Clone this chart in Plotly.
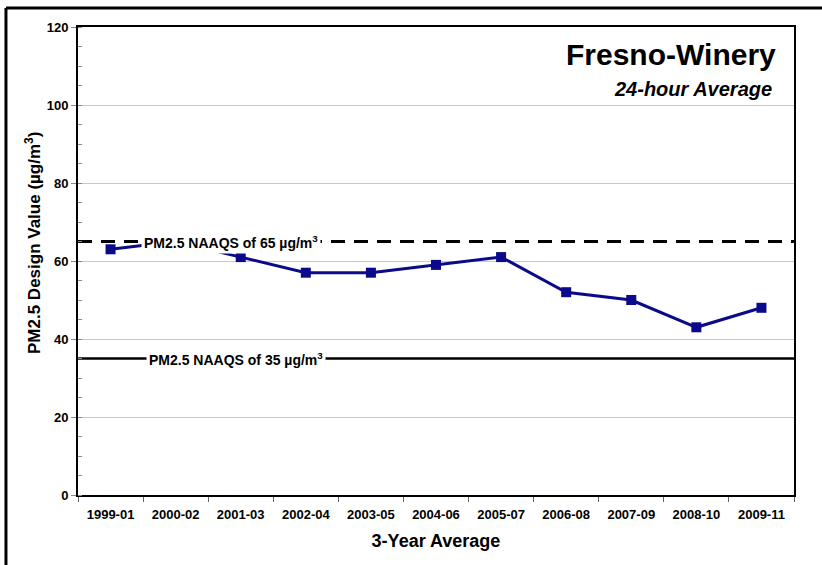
import plotly.graph_objects as go

categories = ["1999-01", "2000-02", "2001-03", "2002-04", "2003-05", "2004-06",
              "2005-07", "2006-08", "2007-09", "2008-10", "2009-11"]
design_values = [63, 65, 61, 57, 57, 59, 61, 52, 50, 43, 48]
naaqs_old = 65
naaqs_new = 35
y_ticks = [0, 20, 40, 60, 80, 100, 120]

FONT = "Arial, Liberation Sans, sans-serif"
NAVY = "#0a0a8a"

fig = go.Figure()

fig.add_trace(go.Scatter(
    x=categories, y=design_values, mode="lines+markers",
    line=dict(color=NAVY, width=3),
    marker=dict(symbol="square", size=10, color=NAVY),
    showlegend=False, cliponaxis=False,
))

# Standard lines
fig.add_shape(type="line", xref="paper", yref="y", x0=0, x1=1, y0=naaqs_old, y1=naaqs_old,
              line=dict(color="black", width=3, dash="14px,9px"), layer="below")
fig.add_shape(type="line", xref="paper", yref="y", x0=0, x1=1, y0=naaqs_new, y1=naaqs_new,
              line=dict(color="black", width=2.5), layer="below")

for val, xp in ((naaqs_old, 0.214), (naaqs_new, 0.221)):
    fig.add_annotation(
        x=xp, xref="paper", y=val, yref="y", xanchor="center", yanchor="middle",
        text=f"PM2.5 NAAQS of {val} µg/m<sup>3</sup>",
        showarrow=False, bgcolor="white", borderpad=2,
        font=dict(family=FONT, size=14, color="black", weight="bold"),
    )

# Title
fig.add_annotation(x=0.978, y=0.98, xref="paper", yref="paper", xanchor="right", yanchor="top",
                   text="Fresno-Winery", showarrow=False,
                   font=dict(family=FONT, size=30, color="black", weight="bold"))
fig.add_annotation(x=0.972, y=0.895, xref="paper", yref="paper", xanchor="right", yanchor="top",
                   text="<i>24-hour Average</i>", showarrow=False,
                   font=dict(family=FONT, size=20, color="black", weight="bold"))

# Y axis title
fig.add_annotation(x=(33 - 78) / 716, y=(495 - 243) / 468, xref="paper", yref="paper",
                   xanchor="center", yanchor="middle",
                   text="PM2.5 Design Value (µg/m<sup>3</sup>)", textangle=-90, showarrow=False,
                   font=dict(family=FONT, size=17, color="black", weight="bold"))

# Outer frame (partially cut off)
fig.add_shape(type="line", xref="paper", yref="paper", x0=-0.1006, x1=1.1, y0=1.0406, y1=1.0406,
              line=dict(color="black", width=3))
fig.add_shape(type="line", xref="paper", yref="paper", x0=-0.1006, x1=-0.1006, y0=1.0406, y1=-0.2,
              line=dict(color="black", width=3))

fig.update_layout(
    width=822, height=565,
    margin=dict(l=78, r=28, t=27, b=70),
    paper_bgcolor="white", plot_bgcolor="white",
    font=dict(family=FONT, color="black"),
    xaxis=dict(
        type="category", range=[-0.5, len(categories) - 0.5],
        tickson="boundaries", ticks="outside", ticklen=5,
        tickcolor="#666", showgrid=False, showline=True, linecolor="black",
        linewidth=2, mirror=True, ticklabelstandoff=6, automargin=False,
        tickfont=dict(family=FONT, size=13, color="black", weight="bold"),
        title=dict(text="3-Year Average", font=dict(family=FONT, size=18, weight="bold"), standoff=14),
    ),
    yaxis=dict(
        range=[0, 120], tickvals=y_ticks, ticks="outside", ticklen=5, tickcolor="#888",
        showgrid=True, gridcolor="#c8c8c8", gridwidth=1, automargin=False,
        showline=True, linecolor="black", linewidth=2, mirror=True, zeroline=False,
        minor=dict(dtick=5, ticks="inside", ticklen=4, tickcolor="#888", showgrid=False),
        tickfont=dict(family=FONT, size=13, color="black", weight="bold"),
    ),
)

fig.write_html("out.html", config={"displayModeBar": False},
               post_script="document.body.style.margin='0px';")
